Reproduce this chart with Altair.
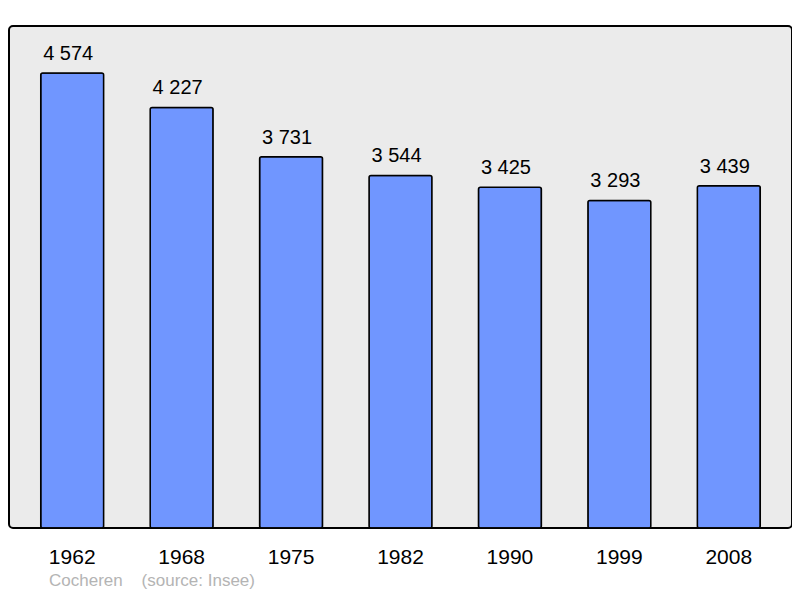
import altair as alt
import pandas as pd

years = ["1962", "1968", "1975", "1982", "1990", "1999", "2008"]
population = [4574, 4227, 3731, 3544, 3425, 3293, 3439]
labels = ["4 574", "4 227", "3 731", "3 544", "3 425", "3 293", "3 439"]

df = pd.DataFrame({"year": years, "pop": population, "label": labels})

base = alt.Chart(df).encode(
    x=alt.X("year:N", sort=years, title=None,
            scale=alt.Scale(paddingInner=0.425, paddingOuter=0.29),
            axis=alt.Axis(labelAngle=0, labelFontSize=21, labelColor="#000000",
                          labelFont="Liberation Sans", labelBaseline="alphabetic",
                          labelPadding=35, ticks=False, domain=False, tickSize=0)),
    y=alt.Y("pop:Q", title=None, scale=alt.Scale(domain=[0, 5046], nice=False, zero=True),
            axis=None),
)

bars = base.mark_bar(color="#7096ff", stroke="#000000", strokeWidth=1.5, cornerRadius=2)

# value labels sit a little left of the bar centre in the original
text = base.mark_text(baseline="alphabetic", dy=-13, dx=-4, fontSize=20,
                      font="Liberation Sans", color="#000000").encode(text="label:N")

chart = (bars + text).properties(
    width=783,
    height=502,
    padding={"left": 1, "top": 18, "right": 0, "bottom": 62},
    autosize=alt.AutoSizeParams(type="none"),
    title=alt.TitleParams("Cocheren\u00a0\u00a0\u00a0\u00a0(source: Insee)",
                          orient="bottom", anchor="start", fontSize=17,
                          fontWeight="normal", color="#b4b4b4",
                          font="Liberation Sans", dx=40, offset=19,
                          baseline="alphabetic"),
).configure_view(
    fill="#ebebeb", stroke="#000000", strokeWidth=2, cornerRadius=4
)

chart.save("out.html", embed_options={"renderer": "svg", "actions": False})
